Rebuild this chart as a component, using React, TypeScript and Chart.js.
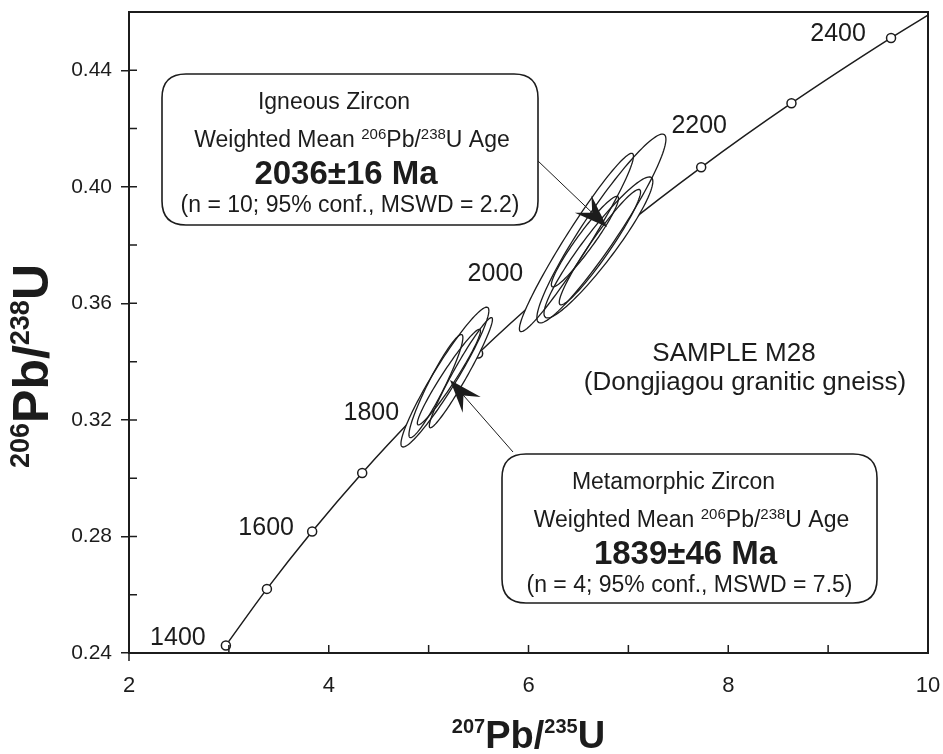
import React, { useEffect, useRef } from "react";
import { Chart, registerables } from "chart.js";
Chart.register(...registerables);

// ---- Concordia curve (age in Ma, 207Pb/235U, 206Pb/238U) ----
const concordiaAges = [1400, 1500, 1600, 1700, 1800, 1900, 2000, 2100, 2200, 2300, 2400, 2440];
const concordiaX = [2.970, 3.381, 3.834, 4.335, 4.887, 5.496, 6.169, 6.910, 7.729, 8.633, 9.630, 10.057];
const concordiaY = [0.2426, 0.2620, 0.2817, 0.3018, 0.3221, 0.3428, 0.3638, 0.3851, 0.4067, 0.4287, 0.4511, 0.4601];

// age labels along the concordia
const ageLabels = ["1400", "1600", "1800", "2000", "2200", "2400"];

// ---- Igneous zircon error ellipses (centre, half-extent x, half-extent y, rho) ----
const igneousX = [6.48, 6.73, 6.565, 6.70, 6.715];
const igneousY = [0.3809, 0.3857, 0.3812, 0.3792, 0.3793];
const igneousSX = [0.571, 0.646, 0.336, 0.545, 0.407];
const igneousSY = [0.0306, 0.0324, 0.01555, 0.0242, 0.0198];
const igneousRho = [0.968, 0.945, 0.95, 0.935, 0.955];

// ---- Metamorphic zircon error ellipses ----
const metaX = [5.163, 5.323, 5.073, 5.203];
const metaY = [0.3347, 0.3362, 0.3316, 0.3347];
const metaSX = [0.44, 0.316, 0.27, 0.316];
const metaSY = [0.024, 0.0189, 0.0177, 0.0164];
const metaRho = [0.95, 0.966, 0.94, 0.965];

// ---- axis ----
const xMin = 2, xMax = 10, yMin = 0.24, yMax = 0.46;

// ---- layout (pixels) ----
const LAYOUT = {
  left: 129, right: 928, top: 12, bottom: 653,
  labelOffsets: [[-48, -8], [-46, -4], [-46, -2], [-50, -19], [-2, -42], [-53, -5]],
  ignBox: [162, 74, 538, 225],
  metBox: [502, 454, 877, 603],
  ignArrow: [537, 160, 607, 227],
  metArrow: [513, 452, 450, 380],
};

const INK = "#1c1c1c";
const SANS = '"Liberation Sans", Arial, Helvetica, sans-serif';
const NARROW = '"Liberation Sans Narrow", "Liberation Sans", Arial, sans-serif';

type Part = { t: string; f: string; dy?: number };

function drawRich(ctx: CanvasRenderingContext2D, parts: Part[], cx: number, base: number) {
  let w = 0;
  for (const p of parts) { ctx.font = p.f; w += ctx.measureText(p.t).width; }
  let x = cx - w / 2;
  ctx.textAlign = "left";
  ctx.textBaseline = "alphabetic";
  for (const p of parts) {
    ctx.font = p.f;
    ctx.fillText(p.t, x, base + (p.dy || 0));
    x += ctx.measureText(p.t).width;
  }
}

function roundRect(ctx: CanvasRenderingContext2D, x0: number, y0: number, x1: number, y1: number, r: number) {
  ctx.beginPath();
  ctx.moveTo(x0 + r, y0);
  ctx.lineTo(x1 - r, y0);
  ctx.quadraticCurveTo(x1, y0, x1, y0 + r);
  ctx.lineTo(x1, y1 - r);
  ctx.quadraticCurveTo(x1, y1, x1 - r, y1);
  ctx.lineTo(x0 + r, y1);
  ctx.quadraticCurveTo(x0, y1, x0, y1 - r);
  ctx.lineTo(x0, y0 + r);
  ctx.quadraticCurveTo(x0, y0, x0 + r, y0);
  ctx.closePath();
}

function arrow(ctx: CanvasRenderingContext2D, a: number[]) {
  const [x0, y0, x1, y1] = a;
  const dx = x1 - x0, dy = y1 - y0;
  const len = Math.hypot(dx, dy);
  const ux = dx / len, uy = dy / len;
  const nx = -uy, ny = ux;
  const L = 33, W = 12;
  ctx.strokeStyle = INK;
  ctx.lineWidth = 1;
  ctx.beginPath();
  ctx.moveTo(x0, y0);
  ctx.lineTo(x1 - ux * 20, y1 - uy * 20);
  ctx.stroke();
  ctx.fillStyle = INK;
  ctx.beginPath();
  ctx.moveTo(x1, y1);
  ctx.lineTo(x1 - ux * L + nx * W, y1 - uy * L + ny * W);
  ctx.lineTo(x1 - ux * L * 0.62, y1 - uy * L * 0.62);
  ctx.lineTo(x1 - ux * L - nx * W, y1 - uy * L - ny * W);
  ctx.closePath();
  ctx.fill();
}

function boxText(ctx: CanvasRenderingContext2D, box: number[], title: string, age: string, stats: string) {
  const [x0, y0, x1] = box;
  const cx = (x0 + x1) / 2;
  ctx.fillStyle = INK;
  drawRich(ctx, [{ t: title, f: `23px ${SANS}` }], cx - 16, y0 + 35);
  drawRich(ctx, [
    { t: "Weighted Mean ", f: `23px ${SANS}` },
    { t: "206", f: `15px ${SANS}`, dy: -8 },
    { t: "Pb/", f: `23px ${SANS}` },
    { t: "238", f: `15px ${SANS}`, dy: -8 },
    { t: "U Age", f: `23px ${SANS}` },
  ], cx + 2, y0 + 73);
  drawRich(ctx, [{ t: age, f: `bold 33px ${SANS}` }], cx - 4, y0 + 110);
  drawRich(ctx, [{ t: stats, f: `23px ${SANS}` }], cx, y0 + 138);
}

const annotPlugin = {
  id: "concordiaAnnotations",
  afterDatasetsDraw(chart: any) {
    const { ctx, chartArea: ca, scales } = chart;
    const xs = scales.x, ys = scales.y;
    ctx.save();
    ctx.beginPath();
    ctx.rect(ca.left, ca.top, ca.right - ca.left, ca.bottom - ca.top);
    ctx.clip();

    // error ellipses
    const groups = [
      [metaX, metaY, metaSX, metaSY, metaRho],
      [igneousX, igneousY, igneousSX, igneousSY, igneousRho],
    ];
    const paths: Path2D[] = [];
    for (const [gx, gy, gsx, gsy, gr] of groups) {
      for (let i = 0; i < gx.length; i++) {
        const p = new Path2D();
        const r = gr[i];
        const k = Math.sqrt(1 - r * r);
        for (let j = 0; j <= 120; j++) {
          const t = (j / 120) * Math.PI * 2;
          const vx = gx[i] + gsx[i] * Math.cos(t);
          const vy = gy[i] + gsy[i] * (r * Math.cos(t) + k * Math.sin(t));
          const px = xs.getPixelForValue(vx), py = ys.getPixelForValue(vy);
          if (j === 0) p.moveTo(px, py); else p.lineTo(px, py);
        }
        p.closePath();
        paths.push(p);
      }
    }
    ctx.fillStyle = "#ffffff";
    for (const p of paths) ctx.fill(p);
    ctx.strokeStyle = INK;
    ctx.lineWidth = 1.3;
    for (const p of paths) ctx.stroke(p);

    // age labels
    ctx.fillStyle = INK;
    ctx.font = `25px ${SANS}`;
    ctx.textAlign = "center";
    ctx.textBaseline = "middle";
    ageLabels.forEach((lab, i) => {
      const idx = concordiaAges.indexOf(Number(lab));
      const px = xs.getPixelForValue(concordiaX[idx]);
      const py = ys.getPixelForValue(concordiaY[idx]);
      const off = LAYOUT.labelOffsets[i];
      ctx.fillText(lab, px + off[0], py + off[1] + 1);
    });

    // arrows
    arrow(ctx, LAYOUT.ignArrow);
    arrow(ctx, LAYOUT.metArrow);

    // boxes
    for (const b of [LAYOUT.ignBox, LAYOUT.metBox]) {
      roundRect(ctx, b[0], b[1], b[2], b[3], 24);
      ctx.fillStyle = "#ffffff";
      ctx.fill();
      ctx.strokeStyle = INK;
      ctx.lineWidth = 1.6;
      ctx.stroke();
    }
    boxText(ctx, LAYOUT.ignBox, "Igneous Zircon", "2036\u00B116 Ma", "(n = 10; 95% conf., MSWD = 2.2)");
    boxText(ctx, LAYOUT.metBox, "Metamorphic Zircon", "1839\u00B146 Ma", "(n = 4; 95% conf., MSWD = 7.5)");

    // sample name
    ctx.fillStyle = INK;
    drawRich(ctx, [{ t: "SAMPLE M28", f: `26px ${SANS}` }], 734, 361);
    drawRich(ctx, [{ t: "(Dongjiagou granitic gneiss)", f: `26px ${SANS}` }], 745, 390);
    ctx.restore();

    // frame and inward ticks
    ctx.save();
    ctx.strokeStyle = INK;
    ctx.lineWidth = 2;
    ctx.strokeRect(ca.left, ca.top, ca.right - ca.left, ca.bottom - ca.top);
    ctx.lineWidth = 1.5;
    ctx.beginPath();
    for (let v = xMin + 1; v < xMax; v += 1) {
      const px = xs.getPixelForValue(v);
      ctx.moveTo(px, ca.bottom);
      ctx.lineTo(px, ca.bottom - 8);
    }
    for (let k = 1; k <= 10; k++) {
      const py = ys.getPixelForValue(yMin + k * 0.02);
      ctx.moveTo(ca.left, py);
      ctx.lineTo(ca.left + 8, py);
    }
    ctx.moveTo(ca.left, ca.bottom);
    ctx.lineTo(ca.left, ca.bottom + 8);
    ctx.stroke();

    // axis titles
    ctx.fillStyle = INK;
    drawRich(ctx, [
      { t: "207", f: `bold 20px ${NARROW}`, dy: -15 },
      { t: "Pb/", f: `bold 38px ${NARROW}` },
      { t: "235", f: `bold 20px ${NARROW}`, dy: -15 },
      { t: "U", f: `bold 38px ${NARROW}` },
    ], (ca.left + ca.right) / 2, 748);
    ctx.translate(48, 366);
    ctx.rotate(-Math.PI / 2);
    drawRich(ctx, [
      { t: "206", f: `bold 27px ${NARROW}`, dy: -19 },
      { t: "Pb/", f: `bold 50px ${NARROW}` },
      { t: "238", f: `bold 27px ${NARROW}`, dy: -19 },
      { t: "U", f: `bold 50px ${NARROW}` },
    ], 0, 0);
    ctx.restore();
  },
};

export default function App() {
  const ref = useRef<HTMLCanvasElement | null>(null);
  useEffect(() => {
    document.body.style.margin = "0";
    const canvas = ref.current!;
    const isMajorY = (v: number) => Math.round(v * 100) % 4 === 0;
    const zeroPad = (s: any) => { s.paddingLeft = 0; s.paddingRight = 0; s.paddingTop = 0; s.paddingBottom = 0; };
    const chart = new Chart(canvas, {
      type: "line",
      data: {
        datasets: [
          {
            data: concordiaX.map((x, i) => ({ x, y: concordiaY[i] })),
            borderColor: INK,
            borderWidth: 1.5,
            cubicInterpolationMode: "monotone",
            pointRadius: (c: any) => (concordiaAges[c.dataIndex] % 100 === 0 ? 4.5 : 0),
            pointBackgroundColor: "#ffffff",
            pointBorderColor: INK,
            pointBorderWidth: 1.5,
            fill: false,
          },
        ],
      },
      options: {
        animation: false,
        responsive: false,
        events: [],
        layout: { padding: { left: 0, top: LAYOUT.top, right: 943 - LAYOUT.right, bottom: 0 } },
        plugins: { legend: { display: false }, tooltip: { enabled: false } },
        scales: {
          x: {
            type: "linear",
            min: xMin,
            max: xMax,
            afterFit: (s: any) => { s.height = 754 - LAYOUT.bottom; zeroPad(s); },
            ticks: {
              stepSize: 1,
              autoSkip: false,
              maxRotation: 0,
              padding: 20,
              color: INK,
              font: { family: NARROW, size: 22 },
              callback: (v: any) => (Number(v) % 2 === 0 ? String(v) : ""),
            },
            grid: { display: true, drawOnChartArea: false, drawTicks: false },
            border: { display: true, color: INK, width: 2 },
          },
          y: {
            type: "linear",
            min: yMin,
            max: yMax,
            afterFit: (s: any) => { s.width = LAYOUT.left; zeroPad(s); },
            ticks: {
              stepSize: 0.02,
              autoSkip: false,
              padding: 9,
              color: INK,
              font: { family: SANS, size: 21 },
              callback: (v: any) => (isMajorY(Number(v)) ? Number(v).toFixed(2) : ""),
            },
            grid: {
              display: true,
              drawOnChartArea: false,
              drawTicks: true,
              tickLength: 8,
              lineWidth: 1.5,
              color: (c: any) => (c.tick && isMajorY(c.tick.value) ? INK : "rgba(0,0,0,0)"),
            },
            border: { display: true, color: INK, width: 2 },
          },
        },
      },
      plugins: [annotPlugin],
    } as any);
    return () => chart.destroy();
  }, []);
  return (
    <div style={{ width: 943, height: 754 }}>
      <canvas ref={ref} width={943} height={754} style={{ display: "block" }} />
    </div>
  );
}
